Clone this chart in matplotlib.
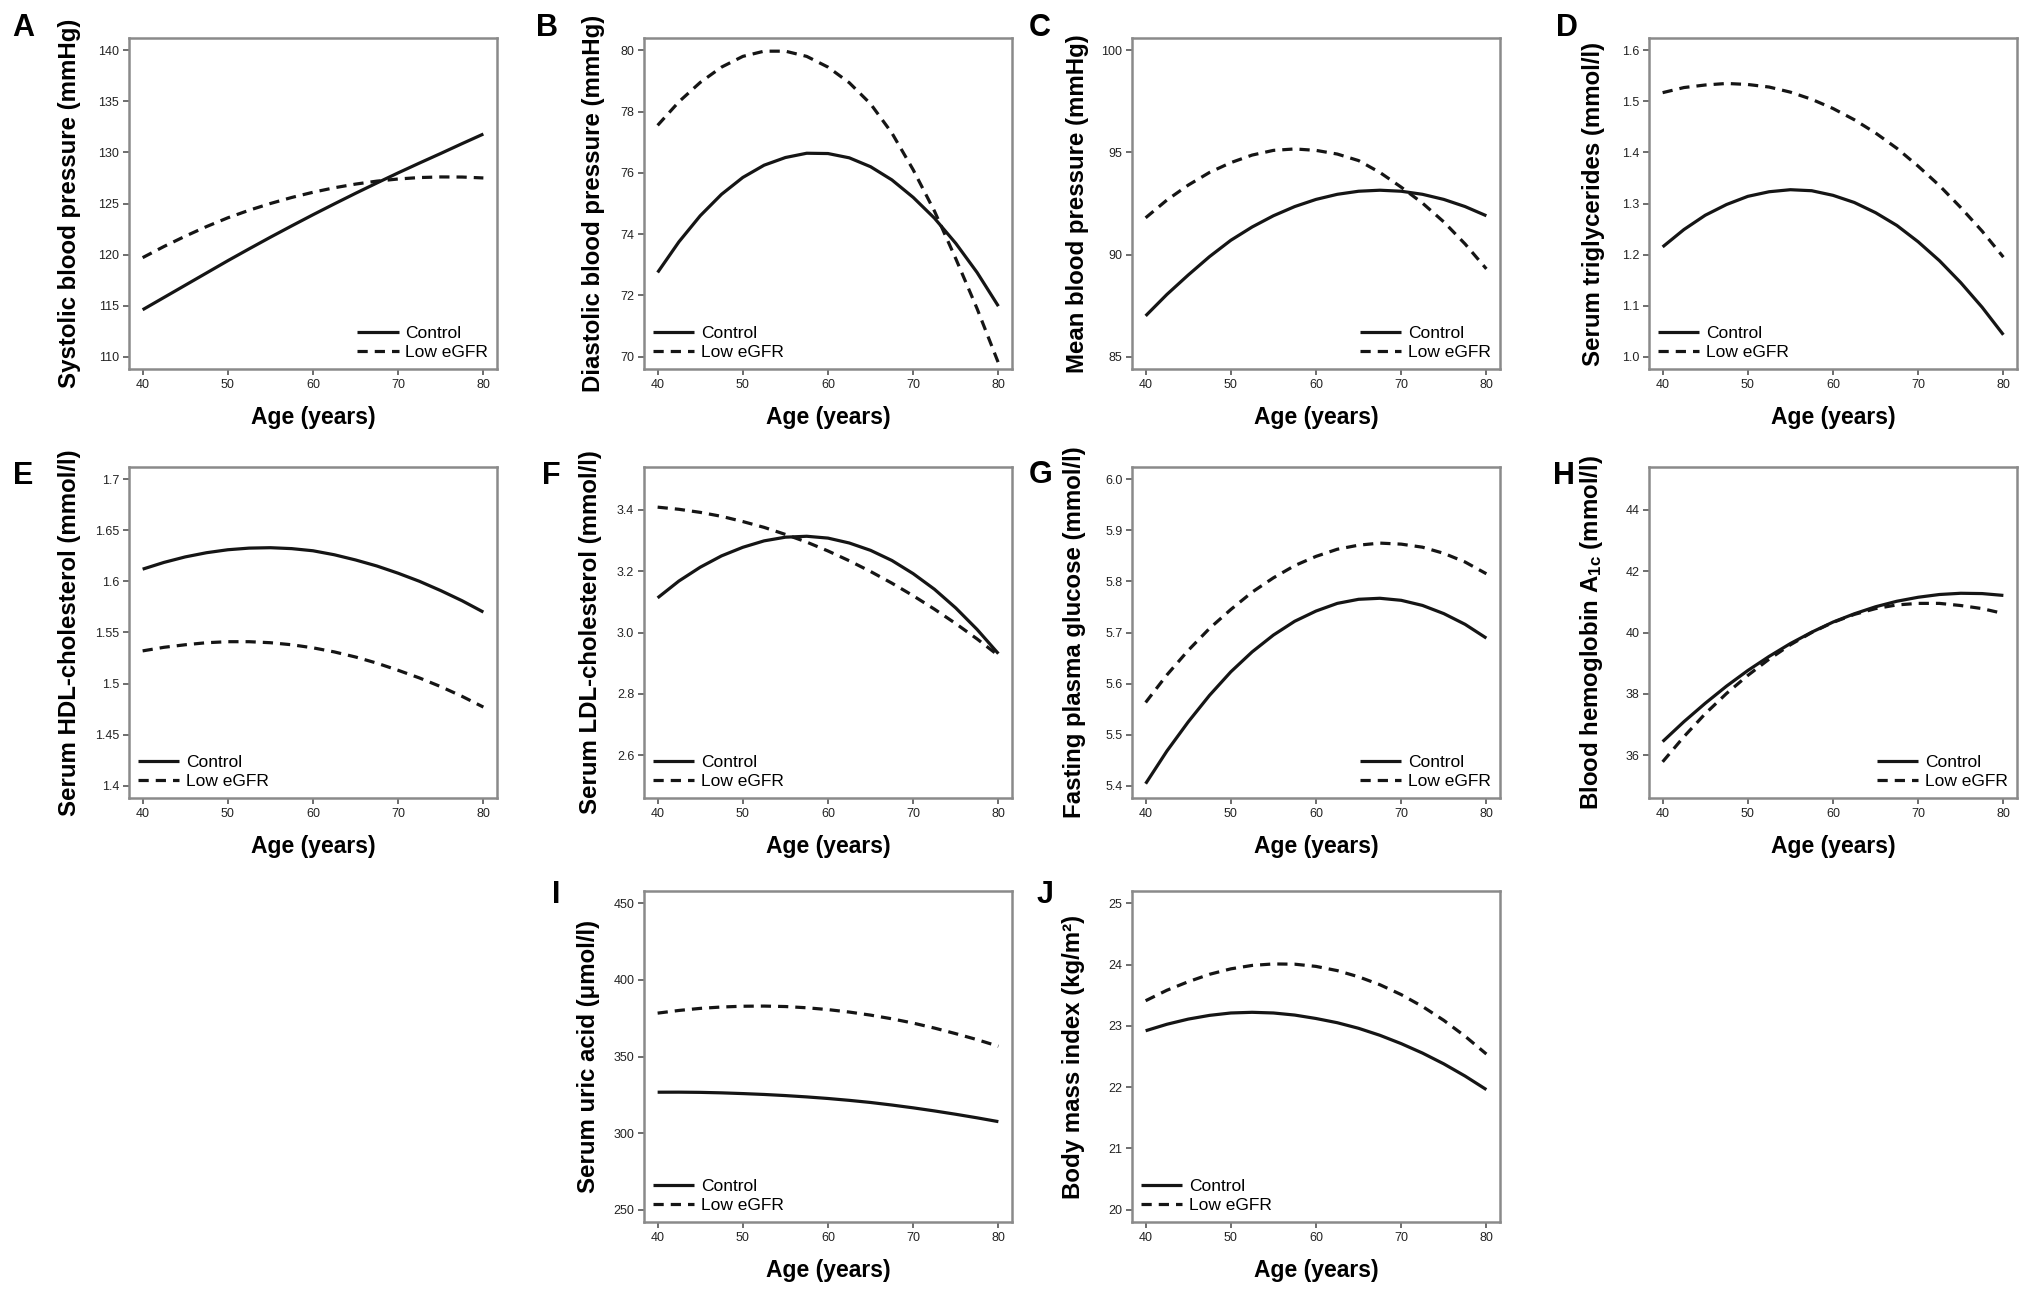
import matplotlib
matplotlib.use("Agg")
import matplotlib.pyplot as plt

plt.rcParams['font.family'] = ['Liberation Sans', 'DejaVu Sans']
plt.rcParams['mathtext.fontset'] = 'custom'
plt.rcParams['mathtext.rm'] = 'Liberation Sans:bold'
plt.rcParams['mathtext.bf'] = 'Liberation Sans:bold'
plt.rcParams['mathtext.it'] = 'Liberation Sans:bold:italic'

age = [40, 42.5, 45, 47.5, 50, 52.5, 55, 57.5, 60, 62.5, 65, 67.5, 70,
       72.5, 75, 77.5, 80]

# ---- data ----
sbp_control = [114.6, 115.8, 117.0, 118.2, 119.4, 120.56, 121.7, 122.81, 123.9,
               124.96, 126.0, 127.01, 128.0, 128.96, 129.9, 130.86, 131.8]
sbp_low = [119.7, 120.79, 121.8, 122.74, 123.6, 124.34, 125.0, 125.59, 126.1,
           126.54, 126.9, 127.19, 127.4, 127.54, 127.6, 127.59, 127.5]

dbp_control = [72.75, 73.75, 74.6, 75.3, 75.85, 76.25, 76.5, 76.64, 76.63,
               76.49, 76.2, 75.77, 75.2, 74.52, 73.7, 72.75, 71.65]
dbp_low = [77.55, 78.32, 78.95, 79.45, 79.8, 79.97, 79.97, 79.8, 79.45,
           78.94, 78.25, 77.3, 76.1, 74.75, 73.2, 71.57, 69.8]

mbp_control = [87.0, 88.05, 89.0, 89.9, 90.7, 91.35, 91.9, 92.35, 92.7,
               92.95, 93.1, 93.15, 93.1, 92.95, 92.7, 92.35, 91.9]
mbp_low = [91.8, 92.67, 93.4, 94.02, 94.5, 94.87, 95.1, 95.17, 95.1,
           94.92, 94.6, 94.02, 93.3, 92.52, 91.6, 90.52, 89.3]

tg_control = [1.215, 1.249, 1.277, 1.298, 1.314, 1.323, 1.327, 1.325, 1.316,
              1.302, 1.282, 1.257, 1.225, 1.188, 1.145, 1.097, 1.043]
tg_low = [1.517, 1.527, 1.532, 1.535, 1.533, 1.528, 1.518, 1.504, 1.486,
          1.464, 1.438, 1.408, 1.373, 1.335, 1.292, 1.246, 1.195]

hdl_control = [1.612, 1.6186, 1.624, 1.6281, 1.631, 1.6326, 1.633, 1.6321,
               1.630, 1.6261, 1.621, 1.6151, 1.608, 1.6001, 1.591, 1.5811,
               1.570]
hdl_low = [1.532, 1.5355, 1.538, 1.540, 1.541, 1.541, 1.540, 1.538, 1.535,
           1.531, 1.526, 1.520, 1.513, 1.5055, 1.497, 1.4875, 1.477]

ldl_control = [3.113, 3.168, 3.213, 3.250, 3.278, 3.299, 3.311, 3.314, 3.308,
               3.292, 3.268, 3.235, 3.192, 3.141, 3.080, 3.010, 2.931]
ldl_low = [3.409, 3.402, 3.392, 3.379, 3.362, 3.343, 3.320, 3.295, 3.266,
           3.234, 3.199, 3.161, 3.120, 3.076, 3.029, 2.979, 2.925]

fpg_control = [5.404, 5.468, 5.525, 5.577, 5.623, 5.662, 5.695, 5.722, 5.742,
               5.757, 5.765, 5.767, 5.763, 5.753, 5.737, 5.716, 5.689]
fpg_low = [5.563, 5.617, 5.665, 5.708, 5.745, 5.779, 5.807, 5.831, 5.849,
           5.863, 5.871, 5.875, 5.873, 5.867, 5.855, 5.838, 5.815]

hba1c_control = [36.44, 37.09, 37.69, 38.25, 38.76, 39.22, 39.64, 40.01, 40.34,
                 40.61, 40.84, 41.02, 41.15, 41.24, 41.28, 41.27, 41.21]
hba1c_low = [35.78, 36.6, 37.35, 38.01, 38.6, 39.13, 39.6, 40.0, 40.33,
             40.59, 40.78, 40.9, 40.95, 40.95, 40.88, 40.78, 40.62]

ua_control = [326.7, 326.73, 326.6, 326.28, 325.8, 325.23, 324.5, 323.63,
              322.6, 321.38, 320.0, 318.33, 316.5, 314.48, 312.3, 309.98, 307.5]
ua_low = [378.3, 380.05, 381.4, 382.3, 382.8, 382.9, 382.6, 381.8, 380.6,
          379.0, 377.0, 374.6, 371.8, 368.55, 364.9, 361.0, 356.7]

bmi_control = [22.92, 23.026, 23.11, 23.171, 23.21, 23.221, 23.21, 23.176,
               23.12, 23.051, 22.96, 22.846, 22.71, 22.556, 22.38, 22.181, 21.96]
bmi_low = [23.41, 23.581, 23.72, 23.841, 23.93, 23.986, 24.01, 24.006, 23.97,
           23.901, 23.80, 23.671, 23.51, 23.316, 23.09, 22.831, 22.54]

letters = ['A', 'B', 'C', 'D', 'E', 'F', 'G', 'H', 'I', 'J']
ylabels = ['Systolic blood pressure (mmHg)',
           'Diastolic blood pressure (mmHg)',
           'Mean blood pressure (mmHg)',
           'Serum triglycerides (mmol/l)',
           'Serum HDL-cholesterol (mmol/l)',
           'Serum LDL-cholesterol (mmol/l)',
           'Fasting plasma glucose (mmol/l)',
           r'Blood hemoglobin A$_{\mathrm{1c}}$ (mmol/l)',
           'Serum uric acid (\u03bcmol/l)',
           'Body mass index (kg/m\u00b2)']
yticks = [[110, 115, 120, 125, 130, 135, 140],
          [70, 72, 74, 76, 78, 80],
          [85, 90, 95, 100],
          [1.0, 1.1, 1.2, 1.3, 1.4, 1.5, 1.6],
          [1.4, 1.45, 1.5, 1.55, 1.6, 1.65, 1.7],
          [2.6, 2.8, 3.0, 3.2, 3.4],
          [5.4, 5.5, 5.6, 5.7, 5.8, 5.9, 6.0],
          [36, 38, 40, 42, 44],
          [250, 300, 350, 400, 450],
          [20, 21, 22, 23, 24, 25]]
yticklabels = [None, None, None,
               ['1.0', '1.1', '1.2', '1.3', '1.4', '1.5', '1.6'],
               ['1.4', '1.45', '1.5', '1.55', '1.6', '1.65', '1.7'],
               ['2.6', '2.8', '3.0', '3.2', '3.4'],
               ['5.4', '5.5', '5.6', '5.7', '5.8', '5.9', '6.0'],
               None, None, None]
yranges = [(110, 140), (70, 80), (85, 100), (1.0, 1.6), (1.4, 1.7),
           (2.5, 3.5), (5.4, 6.0), (35, 45), (250, 450), (20, 25)]
controls = [sbp_control, dbp_control, mbp_control, tg_control, hdl_control,
            ldl_control, fpg_control, hba1c_control, ua_control, bmi_control]
lows = [sbp_low, dbp_low, mbp_low, tg_low, hdl_low,
        ldl_low, fpg_low, hba1c_low, ua_low, bmi_low]
legend_locs = ['lower right', 'lower left', 'lower right', 'lower left',
               'lower left', 'lower left', 'lower right', 'lower right',
               'lower left', 'lower left']

# ---- layout (pixels in 2031x1296 figure) ----
W, H = 2031, 1296
col_left = [129, 644, 1132, 1649]
row_top = [38, 467, 891]
ax_w, ax_h = 368, 331
grid_pos = [(0, 0), (0, 1), (0, 2), (0, 3), (1, 0), (1, 1), (1, 2), (1, 3),
            (2, 1), (2, 2)]
letter_xy = [(12, 13), (536, 13), (1029, 13), (1556, 13), (13, 461),
             (542, 461), (1029, 460), (1553, 461), (552, 880), (1037, 880)]
ylabel_x = [-0.13, -0.106, -0.118, -0.12, -0.13, -0.114, -0.126, -0.12,
            -0.12, -0.128]

fig = plt.figure(figsize=(W / 100, H / 100), dpi=100)
spine_col = '#8a8a8a'
line_col = '#151515'

for i in range(10):
    r, c = grid_pos[i]
    left = col_left[c] / W
    bottom = 1 - (row_top[r] + ax_h) / H
    ax = fig.add_axes([left, bottom, ax_w / W, ax_h / H])
    ax.plot(age, controls[i], color=line_col, lw=2.3, solid_capstyle='butt',
            label='Control')
    ax.plot(age, lows[i], color=line_col, lw=2.3, linestyle=(0, (3.2, 2.2)),
            label='Low eGFR')
    ax.set_xlim(38.4, 81.6)
    lo, hi = yranges[i]
    pad = 0.04 * (hi - lo)
    ax.set_ylim(lo - pad, hi + pad)
    ax.set_xticks([40, 50, 60, 70, 80])
    ax.set_yticks(yticks[i])
    if yticklabels[i] is not None:
        ax.set_yticklabels(yticklabels[i])
    for s in ax.spines.values():
        s.set_color(spine_col)
        s.set_linewidth(1.8)
    ax.tick_params(direction='out', length=4, width=1.2, color='#555555',
                   labelsize=9, labelcolor='#222222', pad=3)
    ax.set_xlabel('Age (years)', fontsize=16.5, fontweight='bold', labelpad=11)
    ax.set_ylabel(ylabels[i], fontsize=17.3, fontweight='bold')
    ax.yaxis.set_label_coords(ylabel_x[i], 0.5)
    ax.legend(loc=legend_locs[i], frameon=False, fontsize=12.5,
              handlelength=2.4, handletextpad=0.4, labelspacing=0.25,
              borderpad=0.2, borderaxespad=0.3)
    lx, ly = letter_xy[i]
    fig.text(lx / W, 1 - ly / H, letters[i], fontsize=22, fontweight='bold',
             ha='left', va='top')

fig.savefig('out.png', dpi=100, facecolor='white')
